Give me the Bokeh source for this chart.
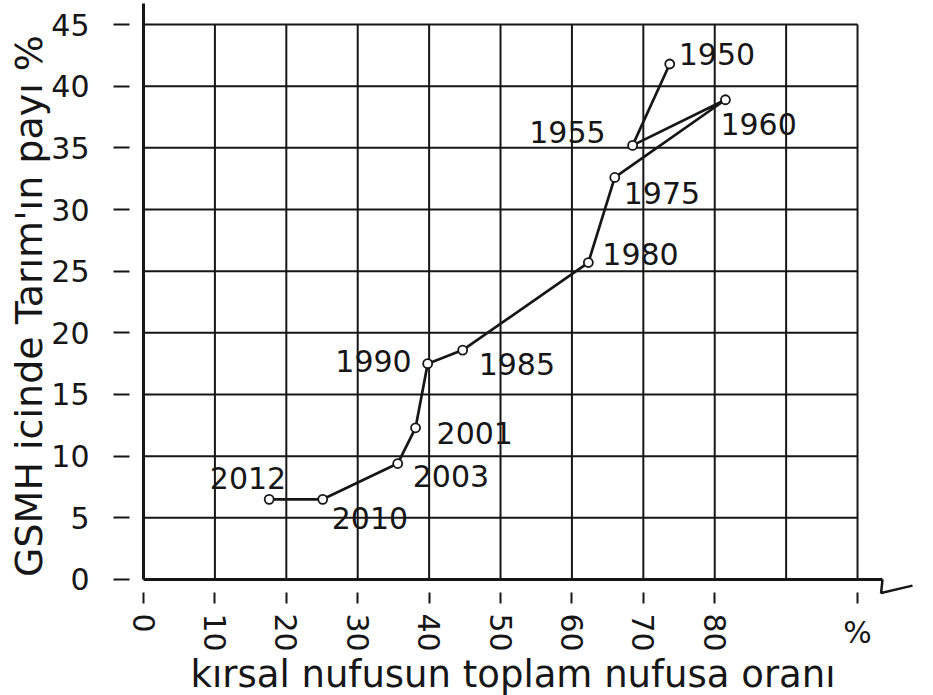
import math
from bokeh.plotting import figure
from bokeh.models import ColumnDataSource, FixedTicker, Range1d
from bokeh.embed import file_html
from bokeh.resources import INLINE
from bokeh.core.properties import value

# ---- data ----
years = ["1950", "1955", "1960", "1975", "1980", "1985", "1990", "2001", "2003", "2010", "2012"]
rural_share = [73.7, 68.5, 81.5, 66.0, 62.3, 44.7, 39.8, 38.1, 35.6, 25.1, 17.6]   # kırsal nüfus oranı %
agri_share = [41.8, 35.2, 38.9, 32.6, 25.7, 18.6, 17.5, 12.3, 9.4, 6.5, 6.5]       # GSMH içinde tarımın payı %

x_ticks = [0, 10, 20, 30, 40, 50, 60, 70, 80, 100]
y_ticks = [0, 5, 10, 15, 20, 25, 30, 35, 40, 45]
x_grid = [10, 20, 30, 40, 50, 60, 70, 80, 90, 100]
y_grid = [5, 10, 15, 20, 25, 30, 35, 40, 45]
x_unit_label = "%"

x_title = "kırsal nufusun toplam nufusa oranı"
y_title = "GSMH icinde Tarım'ın payı %"

# ---- label placement styles (screen px, +y is down) ----
label_dx = [9, -27, -5, 9, 14, 16, -16, 21, 15, 9, 17]
label_dy = [-10, -13, 24, 16, -9, 14, -3, 5, 12, 19, -21]
label_align = ["left", "right", "left", "left", "left", "left", "right", "left", "left", "left", "right"]

FONT = "DejaVu Sans"
INK = "#161616"
X_AXIS_END = 103.5
Y_AXIS_END = 46.7

p = figure(width=933, height=695, output_backend="svg", toolbar_location=None,
           x_range=Range1d(-20.03, 110.64), y_range=Range1d(-9.41, 46.95),
           min_border_left=0, min_border_right=0, min_border_top=0, min_border_bottom=0)
p.outline_line_color = None
p.background_fill_color = "white"
p.border_fill_color = "white"
p.xgrid.visible = False
p.ygrid.visible = False

# grid drawn as a closed box 0..100 x 0..45
p.segment(x0=x_grid, y0=[y_ticks[0]] * len(x_grid), x1=x_grid, y1=[y_ticks[-1]] * len(x_grid),
          line_color=INK, line_width=2)
p.segment(x0=[x_ticks[0]] * len(y_grid), y0=y_grid, x1=[x_ticks[-1]] * len(y_grid), y1=y_grid,
          line_color=INK, line_width=2)

# axis break mark at the end of the x axis
p.line(x=[X_AXIS_END, X_AXIS_END - 0.2, X_AXIS_END + 4.2], y=[0, -1.1, -0.5],
       line_color=INK, line_width=2.5)

src = ColumnDataSource(dict(x=rural_share, y=agri_share, year=years,
                            dx=label_dx, dy=label_dy, align=label_align))
p.line("x", "y", source=src, line_color=INK, line_width=2.7)
p.scatter("x", "y", source=src, marker="circle", size=9, fill_color="white",
          line_color=INK, line_width=1.8)
p.text("x", "y", text="year", source=src, x_offset="dx", y_offset="dy",
       text_align="align", text_baseline="middle",
       text_font=value(FONT), text_font_size="30px", text_color=INK)

# "%" unit under the x axis
p.text(x=[x_ticks[-1]], y=[y_ticks[0]], text=[x_unit_label], y_offset=53,
       text_align="center", text_baseline="middle",
       text_font=value(FONT), text_font_size="30px", text_color=INK)

# axis titles
p.text(x=[(x_ticks[0] + X_AXIS_END) / 2], y=[y_ticks[0]], text=[x_title], y_offset=95,
       text_align="center", text_baseline="middle",
       text_font=value(FONT), text_font_size="37px", text_color=INK)
p.text(x=[x_ticks[0]], y=[(y_ticks[0] + y_ticks[-1]) / 2], text=[y_title], x_offset=-115,
       y_offset=4, angle=math.pi / 2, text_align="center", text_baseline="middle",
       text_font=value(FONT), text_font_size="38px", text_color=INK)

for ax in (p.xaxis, p.yaxis):
    ax.axis_line_width = 3
    ax.axis_line_color = INK
    ax.major_tick_line_width = 2
    ax.major_tick_line_color = INK
    ax.minor_tick_line_color = None
    ax.major_label_text_font = FONT
    ax.major_label_text_font_size = "30px"
    ax.major_label_text_color = INK
    ax.fixed_location = 0

p.yaxis.ticker = FixedTicker(ticks=y_ticks)
p.yaxis.bounds = (0, Y_AXIS_END)
p.yaxis.major_tick_in = -14
p.yaxis.major_tick_out = 30
p.yaxis.major_label_standoff = 24

p.xaxis.bounds = (0, X_AXIS_END)
p.xaxis.ticker = FixedTicker(ticks=x_ticks)
p.xaxis.major_label_overrides = {x_ticks[-1]: ""}
p.xaxis.major_label_orientation = "vertical"
p.xaxis.major_tick_in = -13
p.xaxis.major_tick_out = 24
p.xaxis.major_label_standoff = 10

open("out.html", "w").write(file_html(p, INLINE))
